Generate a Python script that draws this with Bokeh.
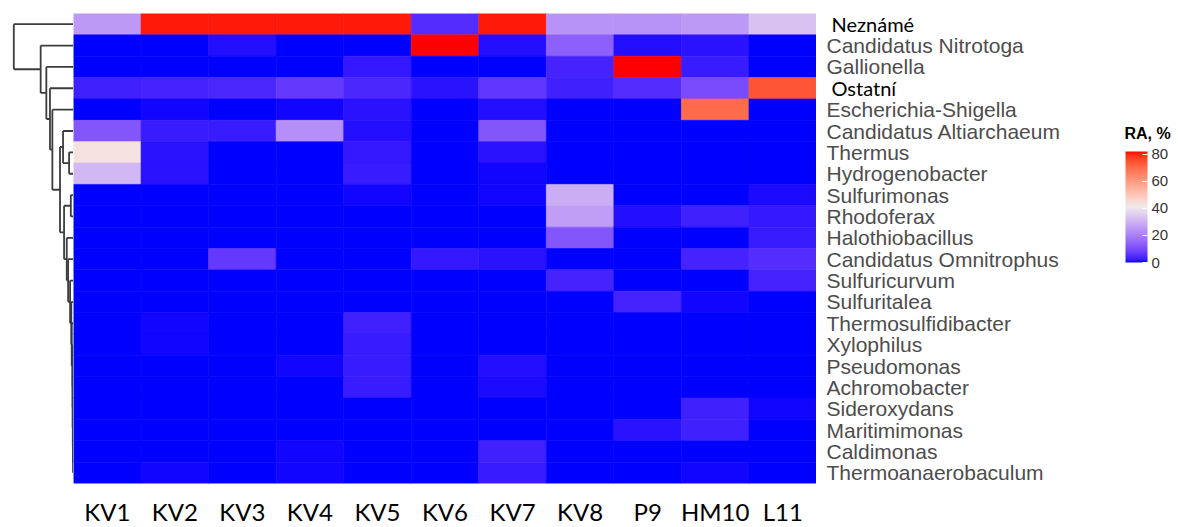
import numpy as np
from bokeh.plotting import figure
from bokeh.layouts import row
from bokeh.models import (ColumnDataSource, FactorRange, Range1d, LinearColorMapper,
                          ColorBar, FixedTicker, Label)
from bokeh.transform import transform
from bokeh.core.properties import field
from bokeh.embed import file_html
from bokeh.resources import INLINE

# ---------------- data ----------------
samples = ["KV1", "KV2", "KV3", "KV4", "KV5", "KV6", "KV7", "KV8", "P9", "HM10", "L11"]
taxa = ["Neznámé", "Candidatus Nitrotoga", "Gallionella", "Ostatní", "Escherichia-Shigella",
        "Candidatus Altiarchaeum", "Thermus", "Hydrogenobacter", "Sulfurimonas", "Rhodoferax",
        "Halothiobacillus", "Candidatus Omnitrophus", "Sulfuricurvum", "Sulfuritalea",
        "Thermosulfidibacter", "Xylophilus", "Pseudomonas", "Achromobacter", "Sideroxydans",
        "Maritimimonas", "Caldimonas", "Thermoanaerobaculum"]

# relative abundance (%) per sample, in taxa order
KV1 = [25, 0, 0, 3, 0, 12, 43, 31, 0, 0, 0, 0, 0, 0, 0, 0, 0, 0, 0, 0, 0, 0]
KV2 = [81, 0, 0, 3.5, 0.5, 2.5, 1.5, 1.5, 0, 0, 0, 0, 0, 0, 0.5, 0.5, 0, 0, 0, 0, 0, 0.5]
KV3 = [81, 1, 0, 4, 0, 2.5, 0, 0, 0, 0, 0, 7, 0, 0, 0, 0, 0, 0, 0, 0, 0, 0]
KV4 = [81, 0, 0, 7, 0.5, 23, 0, 0, 0, 0, 0, 0, 0, 0, 0, 0, 0.5, 0, 0, 0.3, 0.5, 0.5]
KV5 = [81, 0, 2, 4, 1.5, 1, 2, 2.5, 0.5, 0, 0, 0, 0, 0, 3, 2.5, 2.5, 2.5, 0, 0, 0, 0]
KV6 = [5, 82, 0, 1.5, 0, 0, 0, 0, 0, 0, 0, 2, 0, 0, 0, 0, 0, 0, 0, 0, 0, 0]
KV7 = [81, 1, 0, 6.5, 1, 12, 1.5, 0.5, 0.5, 0, 0, 1.5, 0, 0, 0, 0, 1, 0.8, 0, 0, 3, 2.5]
KV8 = [24, 14, 3.5, 3, 0, 0, 0, 0, 29, 26, 12, 0, 3.5, 0, 0, 0, 0, 0, 0, 0, 0, 0]
P9 = [24, 1, 82, 5, 0, 0, 0, 0, 0, 1, 0, 0, 0, 3.5, 0, 0, 0, 0, 0.3, 1.5, 0, 0.3]
HM10 = [25, 1.5, 2.5, 10, 70, 0, 0, 0, 0, 3, 0, 3.5, 0, 0.5, 0, 0, 0.3, 0, 3, 3, 0, 0.5]
L11 = [33, 0, 0, 74, 0, 0, 0, 0, 0.8, 2, 2.5, 5, 3.5, 0, 0, 0, 0, 0, 0.5, 0, 0, 0]
columns = [KV1, KV2, KV3, KV4, KV5, KV6, KV7, KV8, P9, HM10, L11]

# hierarchical clustering of taxa (leaf ids 0..21, merges numbered from 22)
merge_left = [6, 5, 8, 20, 19, 18, 17, 16, 15, 14, 13, 12, 11, 10, 24, 23, 4, 3, 2, 1, 0]
merge_right = [7, 22, 9, 21, 25, 26, 27, 28, 29, 30, 31, 32, 33, 34, 35, 36, 37, 38, 39, 40, 41]
merge_height = [0.074, 0.175, 0.045, 0.008, 0.010, 0.012, 0.014, 0.016, 0.018, 0.030,
                0.037, 0.057, 0.090, 0.113, 0.158, 0.226, 0.354, 0.394, 0.455, 0.550, 1.0]

highlighted = ["Neznámé", "Ostatní"]
ticks = [0, 20, 40, 60, 80]
ra_max = 82
legend_title = "RA, %"

# ---------------- palette (Lab interpolation blue - whitish - red) ----------------
WHITE = np.array([0.95047, 1.0, 1.08883])
M = np.array([[0.4124564, 0.3575761, 0.1804375],
              [0.2126729, 0.7151522, 0.0721750],
              [0.0193339, 0.1191920, 0.9503041]])
Minv = np.linalg.inv(M)


def rgb2lab(rgb):
    c = np.array(rgb, float) / 255
    lin = np.where(c <= 0.04045, c / 12.92, ((c + 0.055) / 1.055) ** 2.4)
    t = (M @ lin) / WHITE
    f = np.where(t > 0.008856, np.cbrt(t), 7.787 * t + 16 / 116)
    return np.array([116 * f[1] - 16, 500 * (f[0] - f[1]), 200 * (f[1] - f[2])])


def lab2hex(lab):
    L, a, b = lab
    fy = (L + 16) / 116
    f = np.array([fy + a / 500, fy, fy - b / 200])
    t = np.where(f ** 3 > 0.008856, f ** 3, (f - 16 / 116) / 7.787)
    lin = np.clip(Minv @ (t * WHITE), 0, 1)
    s = np.where(lin <= 0.0031308, 12.92 * lin, 1.055 * lin ** (1 / 2.4) - 0.055)
    r, g, bb = np.clip(np.round(s * 255), 0, 255).astype(int)
    return "#%02x%02x%02x" % (r, g, bb)


lab_blue, lab_mid, lab_red = rgb2lab((0, 0, 255)), rgb2lab((240, 235, 236)), rgb2lab((255, 0, 0))
palette = []
for t in np.linspace(0, 1, 256):
    if t < 0.5:
        palette.append(lab2hex(lab_blue + (lab_mid - lab_blue) * (t / 0.5)))
    else:
        palette.append(lab2hex(lab_mid + (lab_red - lab_mid) * ((t - 0.5) / 0.5)))
mapper = LinearColorMapper(palette=palette, low=0, high=ra_max)

# ---------------- layout constants ----------------
FRAME_H = 470
TOP = 13
n = len(taxa)
yr = FactorRange(factors=list(reversed(taxa)))
xr = FactorRange(factors=samples)

# ---------------- dendrogram ----------------
node_y = {i: n - i - 0.5 for i in range(n)}
node_h = {i: 0.0 for i in range(n)}
x0, y0, x1, y1 = [], [], [], []
for k, (a, b, h) in enumerate(zip(merge_left, merge_right, merge_height)):
    ya, yb = node_y[a], node_y[b]
    x0 += [node_h[a], node_h[b], h]
    x1 += [h, h, h]
    y0 += [ya, yb, ya]
    y1 += [ya, yb, yb]
    node_y[n + k] = (ya + yb) / 2
    node_h[n + k] = h

dend = figure(frame_width=65, frame_height=FRAME_H, x_range=Range1d(1.0888, 0), y_range=yr,
              output_backend="svg", toolbar_location=None, x_axis_location=None,
              y_axis_location=None, min_border_left=8, min_border_right=0,
              min_border_top=TOP, min_border_bottom=0)
dend.segment(x0=x0, y0=y0, x1=x1, y1=y1, line_color="#3c3c3c", line_width=1.8)
dend.grid.visible = False
dend.outline_line_color = None

# ---------------- heatmap ----------------
xs, ys, vs = [], [], []
for s, col in zip(samples, columns):
    for t_name, v in zip(taxa, col):
        xs.append(s)
        ys.append(t_name)
        vs.append(v)
src = ColumnDataSource(dict(sample=xs, taxon=ys, ra=vs))

heat = figure(frame_width=743, frame_height=FRAME_H, x_range=xr, y_range=yr,
              output_backend="svg", toolbar_location=None, y_axis_location=None,
              min_border_left=0, min_border_right=0, min_border_top=TOP, min_border_bottom=0)
heat.rect(x="sample", y="taxon", width=1, height=1, source=src,
          fill_color=transform("ra", mapper), line_color=transform("ra", mapper), line_width=0.6)
heat.grid.visible = False
heat.outline_line_color = None
heat.xaxis.axis_line_color = None
heat.xaxis.major_tick_line_color = None
heat.xaxis.minor_tick_line_color = None
heat.xaxis.major_label_text_font = "Lato"
heat.xaxis.major_label_text_font_size = "24px"
heat.xaxis.major_label_text_color = "#000000"
heat.xaxis.major_label_standoff = 7

# ---------------- labels + colour bar ----------------
LW = 360
lsrc = ColumnDataSource(dict(
    taxon=taxa,
    x=[15 if t in highlighted else 10 for t in taxa],
    font=["Lato" if t in highlighted else "Liberation Sans" for t in taxa],
    size=["20px" if t in highlighted else "21px" for t in taxa],
    color=["#000000" if t in highlighted else "#4d4d4d" for t in taxa],
))
lab = figure(frame_width=LW, frame_height=FRAME_H, x_range=Range1d(0, LW), y_range=yr,
             output_backend="svg", toolbar_location=None, x_axis_location=None,
             y_axis_location=None, min_border_left=0, min_border_right=0,
             min_border_top=TOP, min_border_bottom=0)
lab.text(x="x", y="taxon", text="taxon", source=lsrc, text_font=field("font"),
         text_font_size=field("size"), text_color=field("color"),
         text_baseline="middle", text_align="left")
lab.grid.visible = False
lab.outline_line_color = None

# colour-bar title (y in categorical synthetic units: 120 px below frame top)
lab.add_layout(Label(x=308, y=n - 120 * n / FRAME_H, text=legend_title,
                     text_font="Liberation Sans", text_font_style="bold", text_font_size="16px",
                     text_color="#000000", text_baseline="middle", text_align="left"))

cb = ColorBar(color_mapper=mapper, ticker=FixedTicker(ticks=ticks), width=22, height=111,
              location=(309, 221), padding=0, margin=0,
              major_label_text_font="Liberation Sans", major_label_text_font_size="15px",
              major_label_text_color="#333333", label_standoff=4,
              major_tick_in=5, major_tick_out=0, major_tick_line_color="#ffffff",
              minor_tick_line_color=None, bar_line_color=None, border_line_color=None,
              background_fill_alpha=0)
lab.add_layout(cb, "center")

layout = row(dend, heat, lab)
open("out.html", "w").write(file_html(layout, INLINE))
